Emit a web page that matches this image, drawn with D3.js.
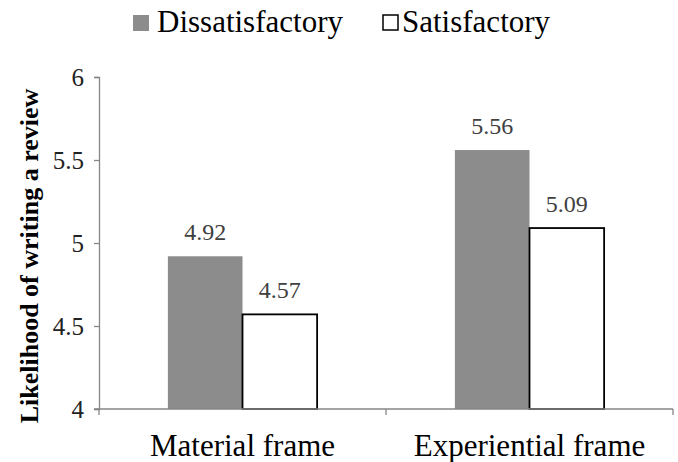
<!DOCTYPE html>
<meta charset="utf-8">
<head>
  <script src="https://d3js.org/d3.v7.min.js"></script>
  <style>
    body { margin: 0; background: #fff; }
    svg text { font-family: "Liberation Serif", "Times New Roman", serif; }
  </style>
</head>
<body>
<div id="chart"></div>
<script>
  var categories = ["Material frame", "Experiential frame"];
  var series = ["Dissatisfactory", "Satisfactory"];
  var dissatisfactory = [4.92, 5.56];
  var satisfactory = [4.57, 5.09];
  var yTicks = [4, 4.5, 5, 5.5, 6];

  var width = 678, height = 462;
  var plotLeft = 99, plotRight = 673, plotTop = 77, plotBottom = 409;

  var svg = d3.select("#chart").append("svg")
      .attr("width", width)
      .attr("height", height)
      .attr("font-family", "Liberation Serif, serif");

  var x0 = d3.scaleBand().domain(categories).range([plotLeft, plotRight]).padding(0);
  var pad = x0.bandwidth() * 0.24;
  var x1 = d3.scaleBand().domain(series).range([pad, x0.bandwidth() - pad]).padding(0);
  var y = d3.scaleLinear().domain([4, 6]).range([plotBottom, plotTop]);

  var fills = { "Dissatisfactory": "#8c8c8c", "Satisfactory": "#ffffff" };
  var strokes = { "Dissatisfactory": "none", "Satisfactory": "#000" };

  var rows = categories.map(function(c, i) {
    return { cat: c, vals: [
      { s: "Dissatisfactory", v: dissatisfactory[i] },
      { s: "Satisfactory", v: satisfactory[i] }
    ]};
  });

  // y axis
  var yAxis = svg.append("g")
      .attr("transform", "translate(" + plotLeft + ",0)")
      .call(d3.axisLeft(y).tickValues(yTicks).tickSize(5).tickPadding(10)
        .tickFormat(function(d) { return d3.format("")(d); }));
  yAxis.attr("font-family", null);
  yAxis.select(".domain").attr("stroke", "#868686").attr("stroke-width", 1.3);
  yAxis.selectAll(".tick line").attr("stroke", "#868686").attr("stroke-width", 1.3);
  yAxis.selectAll(".tick text").attr("font-size", 25).attr("fill", "#222");

  // groups
  var groups = svg.append("g").selectAll("g")
      .data(rows).enter().append("g")
      .attr("transform", function(d) { return "translate(" + x0(d.cat) + ",0)"; });

  groups.selectAll("rect")
      .data(function(d) { return d.vals; })
      .enter().append("rect")
      .attr("x", function(d) { return x1(d.s); })
      .attr("y", function(d) { return y(d.v); })
      .attr("width", x1.bandwidth())
      .attr("height", function(d) { return y(4) - y(d.v); })
      .attr("fill", function(d) { return fills[d.s]; })
      .attr("stroke", function(d) { return strokes[d.s]; })
      .attr("stroke-width", 1.8);

  groups.selectAll("text.val")
      .data(function(d) { return d.vals; })
      .enter().append("text")
      .attr("class", "val")
      .attr("x", function(d) { return x1(d.s) + x1.bandwidth() / 2; })
      .attr("y", function(d) { return y(d.v) - 16; })
      .attr("text-anchor", "middle")
      .attr("font-size", 24)
      .attr("fill", "#404040")
      .text(function(d) { return d.v.toFixed(2); });

  // x axis
  var xAxis = svg.append("g")
      .attr("transform", "translate(0," + plotBottom + ")");
  xAxis.append("line")
      .attr("x1", plotLeft - 5).attr("x2", plotRight)
      .attr("stroke", "#868686").attr("stroke-width", 1.3);
  var xTickPos = [plotLeft].concat(categories.map(function(c) { return x0(c) + x0.bandwidth(); }));
  xAxis.selectAll("line.xt").data(xTickPos).enter().append("line")
      .attr("class", "xt")
      .attr("x1", function(d) { return d; }).attr("x2", function(d) { return d; })
      .attr("y1", 0).attr("y2", 6)
      .attr("stroke", "#868686").attr("stroke-width", 1.3);
  xAxis.selectAll("text.cat").data(categories).enter().append("text")
      .attr("class", "cat")
      .attr("x", function(d) { return x0(d) + x0.bandwidth() / 2; })
      .attr("y", 47)
      .attr("text-anchor", "middle")
      .attr("font-size", 31)
      .attr("fill", "#000")
      .text(function(d) { return d; });

  // y title
  svg.append("text")
      .attr("transform", "translate(38," + ((plotTop + plotBottom) / 2 + 13) + ") rotate(-90)")
      .attr("text-anchor", "middle")
      .attr("font-size", 26)
      .attr("font-weight", "bold")
      .text("Likelihood of writing a review");

  // legend
  var legendX = [133, 382];
  var legend = svg.append("g").selectAll("g")
      .data(series).enter().append("g")
      .attr("transform", function(d, i) { return "translate(" + legendX[i] + ",0)"; });
  legend.append("rect")
      .attr("x", function(d, i) { return i ? 1 : 0; }).attr("y", 15)
      .attr("width", function(d, i) { return i ? 15 : 16; })
      .attr("height", function(d, i) { return i ? 15 : 16; })
      .attr("fill", function(d) { return fills[d]; })
      .attr("stroke", function(d) { return strokes[d]; })
      .attr("stroke-width", 1.5);
  legend.append("text")
      .attr("x", function(d, i) { return i ? 20 : 24; })
      .attr("y", 32)
      .attr("font-size", 31)
      .attr("fill", "#000")
      .text(function(d) { return d; });
</script>
</body>
